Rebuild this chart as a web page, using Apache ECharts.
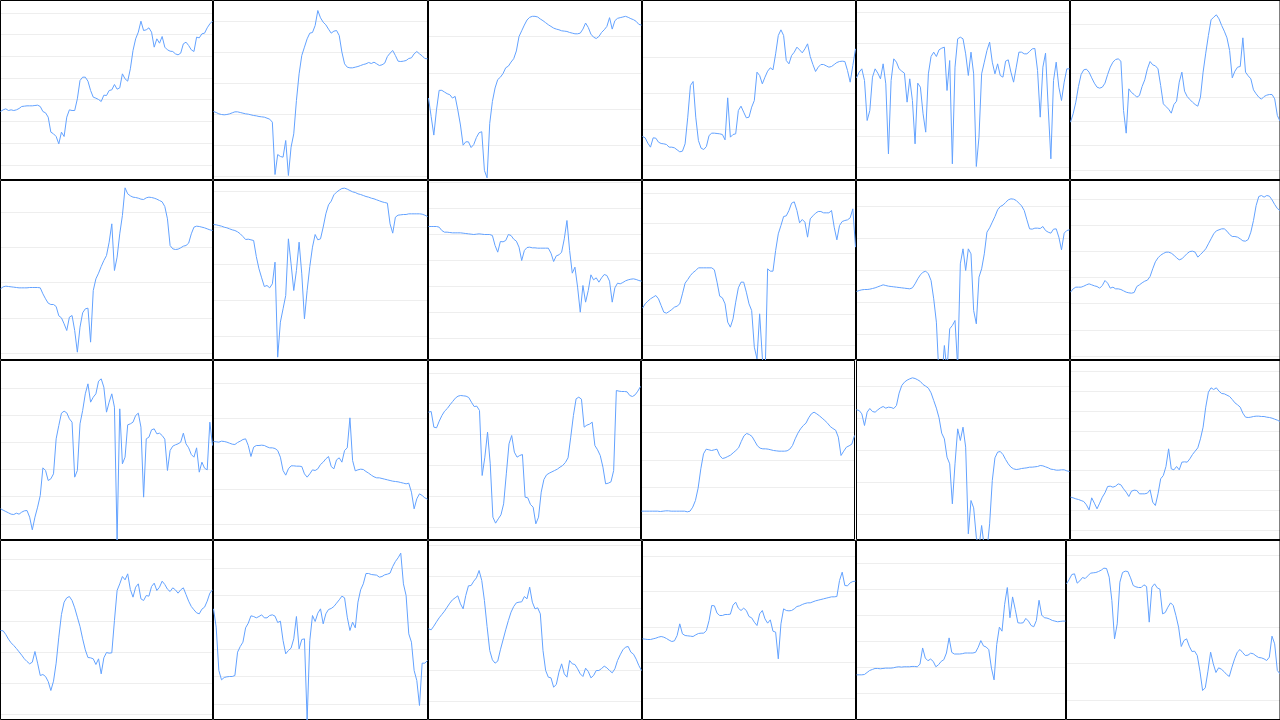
<!DOCTYPE html>
<html><head><meta charset="utf-8">
<script src="https://cdn.jsdelivr.net/npm/echarts@6/dist/echarts.min.js"></script>
<style>html,body{margin:0;padding:0;background:#fff;overflow:hidden}#c{width:1280px;height:720px}</style>
</head><body><div id="c"></div>
<script>
const s1 = [160,165,168,163,165,163,165,169,175,176,177,177,177,178,179,175,160,156,143,98,93,85,63,98,85,143,165,163,163,198,253,263,263,251,223,203,200,196,190,209,208,223,225,241,227,231,273,258,251,288,343,378,398,431,403,405,411,398,353,378,365,385,353,345,341,340,333,330,335,363,368,358,345,340,383,381,393,395,411,423,431];
const s2 = [195,192,188,186,185,186,188,191,194,194,192,190,188,187,185,183,182,180,179,178,175,172,163,6,66,60,58,108,3,88,128,228,308,363,388,413,430,432,453,498,476,463,455,442,430,436,438,423,373,338,328,326,326,328,330,333,336,338,342,339,343,338,333,335,340,360,370,378,363,346,345,346,348,354,356,368,375,368,362,354,353];
const s3 = [141,86,31,106,164,164,159,154,151,141,146,106,61,1,11,11,-6,3,24,38,41,-74,-96,66,131,171,196,203,214,231,236,248,258,281,324,341,358,373,381,384,384,382,376,371,365,359,354,349,346,344,341,340,339,336,334,332,332,334,346,364,351,331,322,318,324,336,344,354,380,346,371,378,380,382,384,381,377,374,369,360,358];
const s4 = [87,83,67,55,83,82,70,66,65,63,55,55,53,47,41,43,65,145,240,252,145,75,52,48,57,90,97,97,96,95,93,77,203,85,93,95,165,178,160,143,145,175,195,280,270,245,265,283,293,287,335,390,407,390,315,305,330,340,355,347,338,350,365,327,303,282,295,303,303,299,295,297,303,309,312,313,312,285,250,300,350];
const s5 = [268,285,295,260,140,170,270,295,282,265,310,250,40,260,325,315,295,288,282,195,265,200,70,252,240,160,105,280,332,345,332,352,357,360,230,320,10,300,385,390,385,340,275,345,280,2,90,280,315,350,375,315,280,310,275,270,318,322,285,255,300,345,345,340,340,347,355,356,290,150,300,342,180,25,260,315,240,200,255,295,295];
const s6 = [143,168,203,250,286,300,302,293,276,260,248,245,248,260,286,308,323,331,333,326,178,110,243,232,226,218,223,250,270,303,325,315,312,303,253,198,190,182,170,196,206,263,293,236,220,211,203,196,191,218,293,350,403,450,458,465,453,433,416,396,358,276,296,308,310,396,293,282,273,240,228,218,212,220,224,226,226,213,163,146];
const s7 = [193,199,201,200,199,198,197,196,196,196,196,197,197,197,197,196,178,163,150,146,146,140,112,106,88,68,108,113,68,3,78,121,133,135,33,188,223,240,260,278,293,333,388,248,288,358,413,496,478,472,468,467,465,462,461,466,468,467,465,462,458,454,440,403,323,313,311,312,316,321,323,330,358,378,381,380,378,376,373,370,368];
const s8 = [335,334,332,330,327,325,322,319,317,313,307,299,290,291,289,287,239,202,175,149,152,145,157,222,-63,42,82,122,292,217,137,197,282,187,52,137,209,267,305,289,292,327,367,394,405,424,432,438,443,444,441,437,433,431,427,425,422,419,417,414,412,409,406,403,401,399,337,309,357,363,364,365,365,367,367,367,367,367,366,363,359];
const s9 = [334,334,334,334,332,322,317,317,316,315,315,315,315,314,313,312,311,310,311,312,311,310,310,310,307,277,257,289,288,292,310,307,296,290,272,232,262,271,272,270,270,269,269,269,269,269,254,229,246,249,257,297,352,262,194,212,152,77,157,107,142,189,174,180,167,180,190,187,170,107,150,164,162,166,171,174,176,177,175,172,170];
const s10 = [110,123,131,138,143,148,138,118,98,95,100,106,113,116,123,153,185,196,208,217,223,231,231,231,231,231,231,225,188,146,141,123,68,53,78,128,171,188,188,158,123,103,-7,-42,93,-37,-107,228,221,221,283,333,358,385,387,403,425,429,403,366,376,368,323,378,387,395,400,400,396,396,396,403,353,315,358,370,373,375,381,408,293];
const s11 = [127,130,132,133,133,134,136,138,141,144,147,145,143,142,141,140,139,138,137,136,135,138,150,165,177,185,188,180,160,105,35,-130,-140,-35,-110,15,25,40,-100,210,255,190,255,240,70,30,170,195,240,305,318,335,352,372,382,386,394,402,405,404,400,392,384,370,342,315,314,317,317,316,322,310,305,302,314,315,290,252,302,310,312];
const s12 = [192,202,207,207,207,210,214,217,214,211,209,204,212,227,219,204,207,202,202,200,196,192,190,189,191,209,214,220,225,228,239,262,283,295,303,308,312,312,309,303,295,289,292,300,308,314,315,312,297,305,313,322,337,352,367,376,379,382,382,375,365,359,359,357,352,346,345,350,372,407,452,479,482,477,482,480,469,455,443,437];
const s13 = [45,41,37,33,29,28,32,29,35,39,40,20,-18,20,50,85,168,160,130,135,150,255,295,332,338,333,315,305,140,160,300,340,390,420,365,380,390,428,435,410,335,365,390,350,-50,345,180,200,297,300,305,325,332,290,80,255,260,282,285,270,272,265,254,160,220,233,237,240,245,272,240,228,208,200,228,155,185,167,162,305,235];
const s14 = [249,248,247,250,249,247,244,241,240,246,250,255,257,237,204,232,237,237,238,237,233,230,230,228,222,202,162,148,167,176,176,175,175,174,152,142,152,164,162,167,180,187,197,204,174,167,194,200,187,222,230,320,192,161,164,166,165,159,154,148,143,140,140,138,136,134,132,130,129,128,126,124,122,124,97,47,77,92,87,80,76];
const s15 = [345,347,300,298,318,335,348,356,367,377,387,393,395,394,393,389,375,362,363,350,155,210,285,190,30,12,25,37,70,160,250,275,225,210,215,218,90,88,68,60,10,30,105,143,157,162,166,170,174,180,185,194,208,270,335,385,390,384,300,306,309,315,245,232,215,180,130,132,136,170,410,408,407,407,406,395,392,397,408,422];
const s16 = [10,10,10,10,10,10,10,9,10,11,11,10,10,10,10,10,10,8,10,22,42,79,137,182,196,194,192,194,196,177,168,170,174,178,185,192,200,219,236,243,240,234,220,206,199,197,197,196,194,192,191,190,190,190,191,196,207,227,244,257,267,274,290,302,307,302,296,289,282,274,264,258,253,232,177,190,202,206,211,237];
const s17 = [312,310,300,265,305,316,307,305,312,318,322,317,320,319,316,325,362,385,395,401,405,408,406,402,397,388,383,377,363,340,317,288,242,225,170,150,30,150,255,220,260,200,-60,40,18,-70,-100,-35,-100,-110,-30,100,168,185,187,178,163,150,140,135,133,134,136,137,138,140,140,141,142,145,144,141,138,134,133,131,131,132,132,129,127];
const s18 = [98,96,93,91,88,85,75,60,96,80,63,80,98,111,130,131,128,131,138,135,123,113,100,116,119,118,108,108,108,110,120,83,73,108,153,163,190,243,183,180,190,180,203,204,203,213,226,236,246,273,308,368,413,426,421,426,416,409,408,404,400,391,381,375,368,350,338,337,338,340,341,341,340,340,338,337,335,332,329,325];
const s19 = [252,251,240,226,215,207,198,188,178,167,159,152,157,189,154,117,120,114,99,72,100,154,232,300,337,350,354,342,320,292,264,227,194,171,170,167,150,167,122,170,186,184,185,282,372,392,414,404,422,375,352,382,392,347,342,357,355,384,394,372,382,400,390,376,369,380,374,364,374,380,360,340,324,314,305,302,316,322,340,364,374];
const s20 = [285,230,100,72,79,81,82,82,85,155,172,185,228,242,264,262,258,262,267,258,258,265,267,263,244,248,190,150,160,167,195,262,165,193,195,-50,190,265,247,272,285,240,270,283,286,292,302,312,323,318,260,220,245,228,305,342,360,391,391,388,387,386,380,382,387,389,392,412,427,438,452,360,325,210,185,100,70,-5,122,122,130];
const s21 = [217,214,225,238,250,260,270,282,294,304,310,316,292,277,317,346,347,360,370,392,362,302,224,152,124,114,120,154,184,214,242,267,284,295,297,298,314,307,342,297,277,280,262,152,92,72,70,42,50,87,112,82,72,122,112,110,97,82,74,99,89,70,77,92,92,98,105,100,92,85,97,122,139,154,162,164,147,141,126,107,92];
const s22 = [177,176,175,175,177,179,182,184,182,178,173,169,171,187,222,192,187,186,185,184,189,193,194,194,202,232,277,276,254,247,247,250,250,251,278,287,269,262,269,262,244,240,227,217,252,262,237,224,234,200,197,117,222,267,262,261,262,267,274,276,280,283,285,285,288,291,293,295,297,299,301,303,303,304,352,377,337,336,345,349,350];
const s23 = [56,56,56,57,63,69,72,75,75,74,75,76,76,76,77,79,80,79,80,80,80,81,81,80,88,136,106,98,103,96,80,86,96,101,121,166,123,118,118,118,119,121,121,121,121,123,138,158,142,139,131,76,41,146,198,186,266,316,226,288,251,211,210,211,224,216,203,199,218,278,234,226,225,222,218,216,214,215,216,216];
const s24 = [348,361,376,378,350,357,367,364,372,380,381,382,385,389,395,394,368,298,183,228,353,382,386,385,366,343,339,337,337,345,340,233,338,348,336,332,258,262,278,291,283,253,218,160,178,183,161,145,146,133,86,28,36,86,143,108,82,96,92,85,76,70,98,123,143,151,142,133,134,140,138,132,127,126,123,118,128,191,168,88,78];

const seriesData = [s1,s2,s3,s4,s5,s6,s7,s8,s9,s10,s11,s12,s13,s14,s15,s16,s17,s18,s19,s20,s21,s22,s23,s24];
const yMax = [493,528,431,495,500,508,518,467,472,493,460,527,490,492,500,462,460,508,522,490,482,472,456,478];
const yMin = [-44,-9,-101,-42,-37,-29,-19,-70,-65,-44,-77,-10,-47,-45,-37,-75,-77,-29,-15,-47,-55,-65,-77,-59];
const yStep = [65.1,93,108,108.25,93,72.7,105.75,108.5,78,91.2,95.75,78.7,81.6,106.25,92.6,82,95.75,59.4,93,81.6,93.4,106.25,77.8,108.75];

const rowLefts = [[0,213,428,642,856,1070],[0,213,428,642,856,1070],[0,213,428,641,856,1070],[0,213,428,642,856,1066]];
const rowRights = [[212,427,641,855,1069,1283],[212,427,641,855,1069,1283],[212,427,640,854,1069,1283],[212,427,641,855,1065,1283]];

const chart = echarts.init(document.getElementById('c'), null, {renderer: 'canvas'});
const grid = [], xAxis = [], yAxis = [], series = [];
seriesData.forEach((d, i) => {
  const r = Math.floor(i / 6), c = i % 6;
  const L = rowLefts[r][c], R = rowRights[r][c];
  grid.push({left: L + 0.5, top: r * 180 + 0.5, width: R - L, height: 179, show: true, borderColor: '#000', borderWidth: 1, z: 1, backgroundColor: 'transparent'});
  xAxis.push({gridIndex: i, type: 'category', boundaryGap: false, data: d.map((_, k) => k),
    axisLine: {show: false}, axisTick: {show: false}, axisLabel: {show: false}, splitLine: {show: false}});
  yAxis.push({gridIndex: i, type: 'value', min: yMin[i], max: yMax[i], minInterval: yStep[i], maxInterval: yStep[i],
    axisLine: {show: false}, axisTick: {show: false}, axisLabel: {show: false},
    splitLine: {show: true, showMinLine: false, showMaxLine: false, lineStyle: {color: '#eeeeee', width: 1}}});
  series.push({type: 'line', xAxisIndex: i, yAxisIndex: i, data: d, showSymbol: false, symbol: 'none',
    lineStyle: {color: '#63a2ff', width: 1}, silent: true, clip: true, z: 2});
});
chart.setOption({animation: false, grid, xAxis, yAxis, series});
</script>
</body></html>
